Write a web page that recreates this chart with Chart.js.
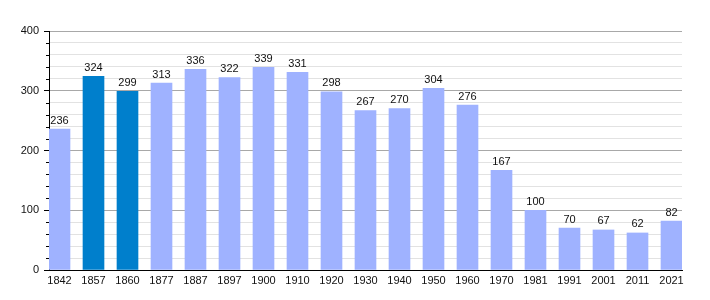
<!DOCTYPE html>
<html>
<head>
<meta charset="utf-8">
<script src="https://cdn.jsdelivr.net/npm/chart.js@4"></script>
<style>
  html, body { margin: 0; padding: 0; background: #fff; }
</style>
</head>
<body>
<canvas id="chart" width="710" height="300"></canvas>
<script>
// population by census year
const years = ['1842', '1857', '1860', '1877', '1887', '1897', '1900', '1910', '1920', '1930',
  '1940', '1950', '1960', '1970', '1981', '1991', '2001', '2011', '2021'];
const population = [236, 324, 299, 313, 336, 322, 339, 331, 298, 267,
  270, 304, 276, 167, 100, 70, 67, 62, 82];
const highlighted = ['1857', '1860'];

const yMax = 400;
const yStep = 20;
const yLabelStep = 100;

const lightBlue = 'rgb(159, 178, 255)';
const darkBlue = 'rgb(0, 127, 204)';
const fontFamily = '"Liberation Sans", Arial, sans-serif';

// half a bar on each side so the first and last bar touch the plot edges
const edge = 10.5 / 34;

const valueLabels = {
  id: 'valueLabels',
  afterDatasetsDraw(chart) {
    const ctx = chart.ctx;
    const meta = chart.getDatasetMeta(0);
    ctx.save();
    ctx.font = '11px ' + fontFamily;
    ctx.fillStyle = '#111';
    ctx.textAlign = 'center';
    ctx.textBaseline = 'bottom';
    meta.data.forEach((bar, i) => {
      ctx.fillText(String(population[i]), bar.x, bar.y - 3);
    });
    ctx.restore();
  }
};

// shorter tick marks for the unlabelled steps
const minorTicks = {
  id: 'minorTicks',
  afterDraw(chart) {
    const ctx = chart.ctx;
    const y = chart.scales.y;
    ctx.save();
    ctx.strokeStyle = '#000';
    ctx.lineWidth = 1;
    y.ticks.forEach(tick => {
      if (tick.value % yLabelStep === 0) return;
      const py = Math.round(y.getPixelForValue(tick.value)) + 0.5;
      ctx.beginPath();
      ctx.moveTo(y.right - 3, py);
      ctx.lineTo(y.right, py);
      ctx.stroke();
    });
    ctx.restore();
  }
};

new Chart(document.getElementById('chart').getContext('2d'), {
  type: 'bar',
  data: {
    datasets: [{
      data: population.map((value, i) => ({ x: i, y: value })),
      backgroundColor: years.map(year => highlighted.includes(year) ? darkBlue : lightBlue),
      borderWidth: 0,
      barThickness: 21
    }]
  },
  options: {
    responsive: false,
    animation: false,
    layout: { padding: { left: 0, top: 31, right: 28, bottom: 0 } },
    plugins: {
      legend: { display: false },
      tooltip: { enabled: false }
    },
    scales: {
      x: {
        type: 'linear',
        offset: false,
        min: -edge,
        max: years.length - 1 + edge,
        grid: { display: false, drawTicks: false },
        border: { display: true, color: '#000', width: 1 },
        ticks: {
          stepSize: 1,
          includeBounds: false,
          autoSkip: false,
          maxRotation: 0,
          padding: 4,
          color: '#111',
          font: { family: fontFamily, size: 11 },
          callback: value => Number.isInteger(value) ? years[value] : ''
        },
        afterFit: scale => { scale.height = 30; }
      },
      y: {
        min: 0,
        max: yMax,
        grid: {
          color: ctx => ctx.tick.value % yLabelStep === 0 ? '#a8a8a8' : '#e2e2e2',
          tickColor: ctx => ctx.tick.value % yLabelStep === 0 ? '#000' : 'rgba(0,0,0,0)',
          tickLength: 5
        },
        border: { display: true, color: '#000', width: 1 },
        ticks: {
          stepSize: yStep,
          autoSkip: false,
          padding: 5,
          color: '#111',
          font: { family: fontFamily, size: 11 },
          callback: value => value % yLabelStep === 0 ? value : ''
        },
        afterFit: scale => { scale.width = 49; }
      }
    }
  },
  plugins: [valueLabels, minorTicks]
});
</script>
</body>
</html>
